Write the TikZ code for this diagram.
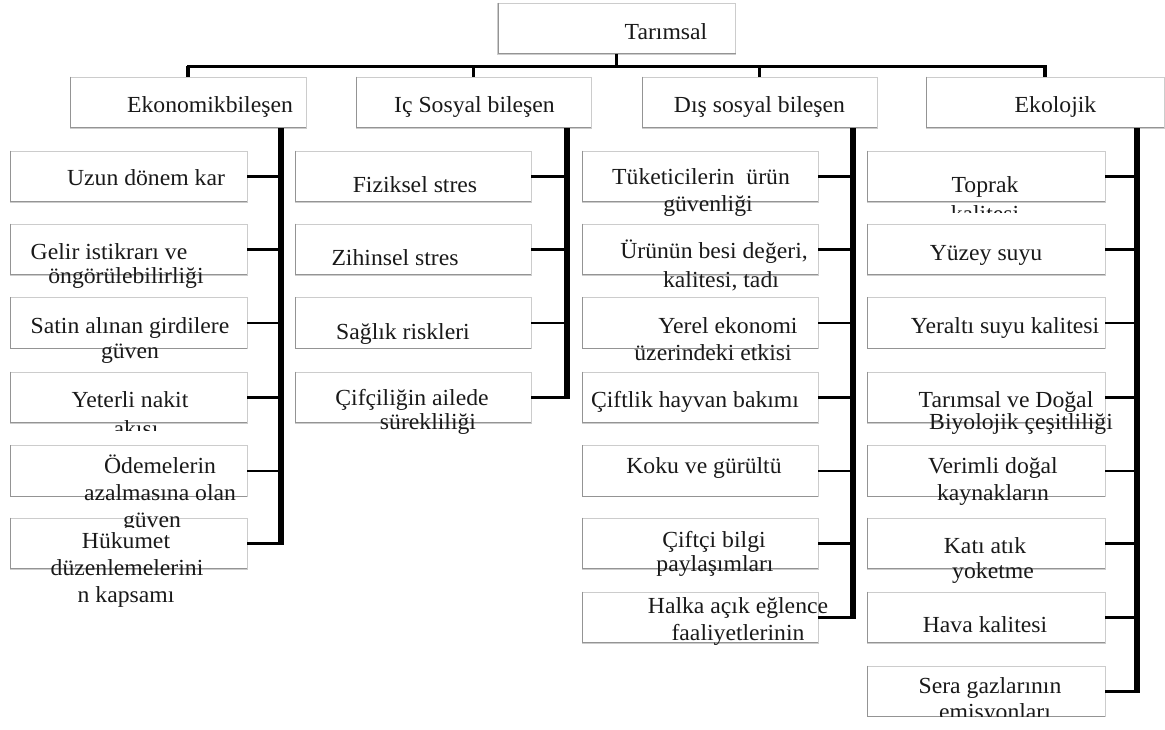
\documentclass[tikz,border=0pt]{standalone}
\usepackage{fontspec}
\setmainfont{Liberation Serif}[FakeStretch=1.03]
\newcommand{\mybox}[5]{% name, cx, cy, w, h
  \node[box, minimum width=#4pt, minimum height=#5pt] (#1) at (#2,#3) {};
  \draw[shadowl] ([xshift=0.9pt]#1.north west) -- ([xshift=0.9pt,yshift=0.9pt]#1.south west) -- ([yshift=0.9pt]#1.south east);}
\newcommand{\txl}[4]{\node[txt] (#1) at (#2,#3) {#4};}
\begin{document}
\begin{tikzpicture}[x=1pt,y=-1pt,
  box/.style={draw=black!20, line width=0.8pt, inner sep=0pt, fill=white},
  shadowl/.style={draw=black!42, line width=0.9pt},
  txt/.style={anchor=base, inner sep=0pt, text=black!90, font=\fontsize{23}{27}\selectfont},
  conn/.style={line width=2.6pt},
  stem/.style={line width=3.6pt},
  busl/.style={line width=3pt, line cap=rect},
  bar/.style={line width=6pt}]
\useasboundingbox (0,0) rectangle (1165,729);

% ---- top and level 2 boxes
\mybox{tar}{616.5}{28.5}{238}{51}
\mybox{eko}{188}{102.5}{236}{51}
\mybox{ic}{473.5}{102.5}{235}{51}
\mybox{dis}{759.5}{102.5}{235}{51}
\mybox{ekl}{1045}{102.5}{238}{51}

% ---- column 1 boxes
\mybox{e1}{128.5}{176.5}{237}{51}
\mybox{e2}{128.5}{249.5}{237}{51}
\mybox{e3}{128.5}{323}{237}{51}
\mybox{e4}{128.5}{397.5}{237}{51}
\mybox{e5}{128.5}{471}{237}{51}
\mybox{e6}{128.5}{543.5}{237}{51}
% ---- column 2 boxes
\mybox{i1}{413}{176.5}{236}{51}
\mybox{i2}{413}{249.5}{236}{51}
\mybox{i3}{413}{323}{236}{51}
\mybox{i4}{413}{397.5}{236}{51}
% ---- column 3 boxes
\mybox{d1}{700}{176.5}{236}{51}
\mybox{d2}{700}{249.5}{236}{51}
\mybox{d3}{700}{323}{236}{51}
\mybox{d4}{700}{397.5}{236}{51}
\mybox{d5}{700}{471}{236}{51}
\mybox{d6}{700}{543.5}{236}{51}
\mybox{d7}{700}{617.5}{236}{51}
% ---- column 4 boxes
\mybox{k1}{986}{176.5}{238}{51}
\mybox{k2}{986}{249.5}{238}{51}
\mybox{k3}{986}{323}{238}{51}
\mybox{k4}{986}{397.5}{238}{51}
\mybox{k5}{986}{471}{238}{51}
\mybox{k6}{986}{543.5}{238}{51}
\mybox{k7}{986}{617.5}{238}{51}
\begin{scope}
  \clip (0,0) rectangle (1165,716.5);
  \mybox{k8}{986}{691.5}{238}{51}
  \txl{k8a}{990}{693}{Sera gazlarının}
  \txl{k8b}{995}{719}{emisyonları}
\end{scope}

% ---- connectors: top
\coordinate (bus) at (616.5,66);
\draw[stem] (tar.south) -- (tar.south |- bus);
\draw[busl] (eko.north |- bus) -- (ekl.north |- bus);
\foreach \n in {eko,ic,dis,ekl} \draw[stem] (\n.north |- bus) -- (\n.north);

% ---- bars and branch connectors
\coordinate (xb1) at (281,0);
\coordinate (xb2) at (567,0);
\coordinate (xb3) at (853,0);
\coordinate (xb4) at (1137,0);
\draw[bar] (eko.south -| xb1) -- ([yshift=-1.4pt]e6.east -| xb1);
\draw[bar] (ic.south -| xb2) -- ([yshift=-1.4pt]i4.east -| xb2);
\draw[bar] (dis.south -| xb3) -- ([yshift=-1.4pt]d7.east -| xb3);
\draw[bar] (ekl.south -| xb4) -- ([yshift=-1.4pt]k8.east -| xb4);
\foreach \i in {1,...,6} \draw[conn] (e\i.east) -- (e\i.east -| xb1);
\foreach \i in {1,...,4} \draw[conn] (i\i.east) -- (i\i.east -| xb2);
\foreach \i in {1,...,7} \draw[conn] (d\i.east) -- (d\i.east -| xb3);
\foreach \i in {1,...,8} \draw[conn] (k\i.east) -- (k\i.east -| xb4);

% ---- texts: top and level 2
\txl{tart}{666}{39}{Tarımsal}
\txl{ekot}{210}{112}{Ekonomikbileşen}
\txl{ict}{474.5}{112}{Iç Sosyal bileşen}
\txl{dist}{759.5}{112}{Dış sosyal bileşen}
\txl{eklt}{1055.5}{112}{Ekolojik}

% ---- column 1 texts
\txl{e1a}{146}{185}{Uzun dönem kar}
\txl{e2a}{109}{259}{Gelir istikrarı ve}
\txl{e2b}{126}{283}{öngörülebilirliği}
\txl{e3a}{130}{333}{Satin alınan girdilere}
\txl{e3b}{130}{358}{güven}
\txl{e4a}{130}{407}{Yeterli nakit}
\begin{scope}
  \clip (0,0) rectangle (1165,430);
  \txl{e4b}{136}{436}{akışı}
\end{scope}
\txl{e5a}{160}{473}{Ödemelerin}
\txl{e5b}{160}{500}{azalmasına olan}
\begin{scope}
  \clip (0,0) rectangle (1165,527.5);
  \txl{e5c}{152}{527}{güven}
\end{scope}
\txl{e6a}{126}{548}{Hükumet}
\txl{e6b}{127}{575}{düzenlemelerini}
\txl{e6c}{126}{602}{n kapsamı}

% ---- column 2 texts
\txl{i1a}{415}{192}{Fiziksel stres}
\txl{i2a}{395}{265}{Zihinsel stres}
\txl{i3a}{403}{339}{Sağlık riskleri}
\txl{i4a}{412}{405}{Çifçiliğin ailede}
\txl{i4b}{428}{429}{sürekliliği}

% ---- column 3 texts
\txl{d1a}{701}{184}{Tüketicilerin\ \ ürün}
\txl{d1b}{708}{211}{güvenliği}
\txl{d2a}{714}{258}{Ürünün besi değeri,}
\txl{d2b}{721}{287}{kalitesi, tadı}
\txl{d3a}{728}{333}{Yerel ekonomi}
\txl{d3b}{713}{360}{üzerindeki etkisi}
\txl{d4a}{695}{407}{Çiftlik hayvan bakımı}
\txl{d5a}{704}{473}{Koku ve gürültü}
\txl{d6a}{714}{547}{Çiftçi bilgi}
\txl{d6b}{715}{571}{paylaşımları}
\txl{d7a}{738}{613}{Halka açık eğlence}
\txl{d7b}{738}{640}{faaliyetlerinin}

% ---- column 4 texts
\txl{k1a}{985}{192}{Toprak}
\begin{scope}
  \clip (0,0) rectangle (1165,212);
  \txl{k1b}{985}{221}{kalitesi}
\end{scope}
\txl{k2a}{986}{260}{Yüzey suyu}
\txl{k3a}{1005}{333}{Yeraltı suyu kalitesi}
\txl{k4a}{1006}{407}{Tarımsal ve Doğal}
\txl{k4b}{1021}{429}{Biyolojik çeşitliliği}
\txl{k5a}{993}{473}{Verimli doğal}
\txl{k5b}{993}{500}{kaynakların}
\txl{k6a}{985}{553}{Katı atık}
\txl{k6b}{993}{578}{yoketme}
\txl{k7a}{985}{632}{Hava kalitesi}
\end{tikzpicture}
\end{document}
